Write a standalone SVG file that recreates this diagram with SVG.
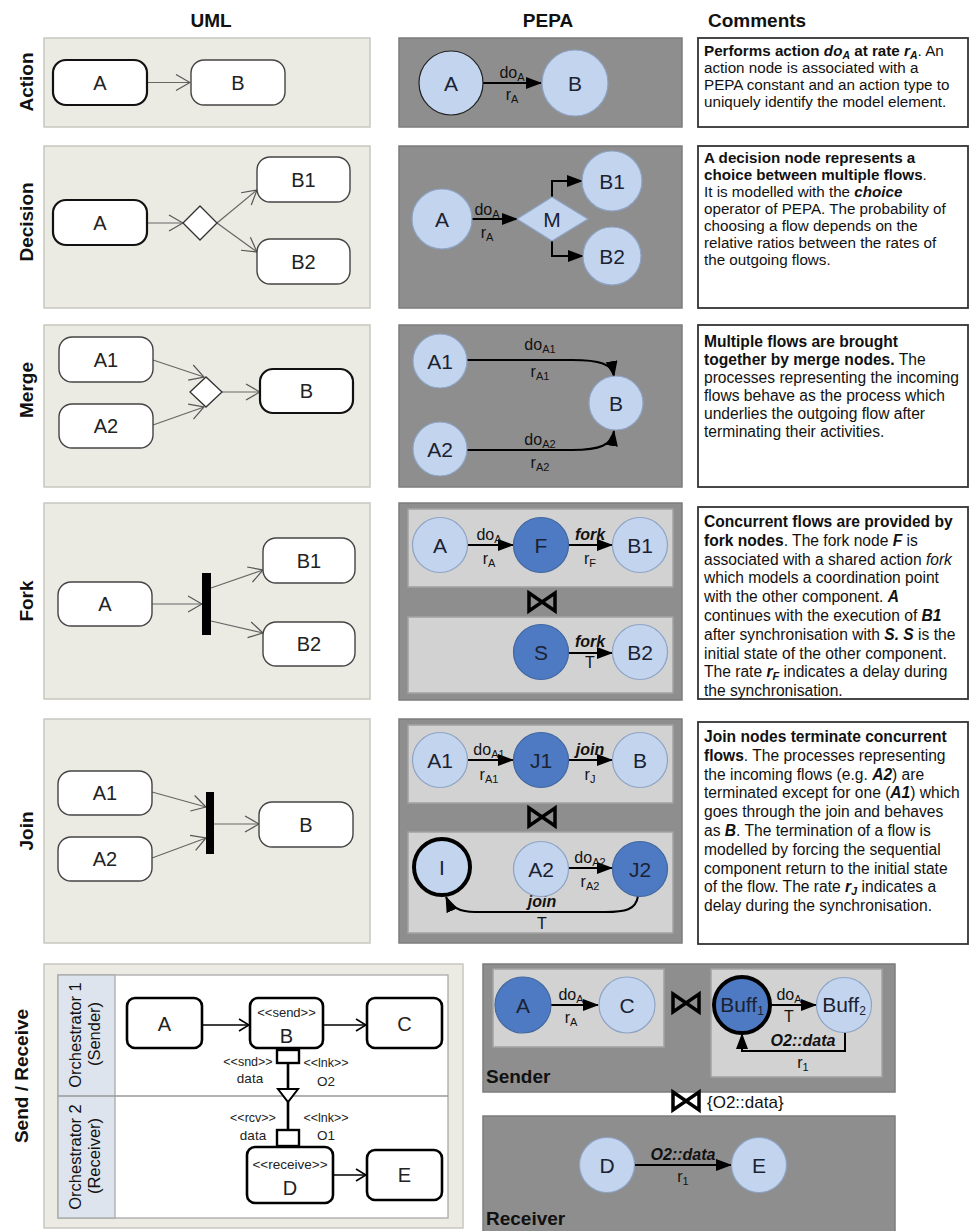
<svg xmlns="http://www.w3.org/2000/svg" width="970" height="1231" viewBox="0 0 970 1231">
<defs>
<marker id="ah" markerUnits="userSpaceOnUse" markerWidth="16" markerHeight="12" refX="15" refY="6" orient="auto"><path d="M0,0 L16,6 L0,12 z" fill="#000"/></marker>
<marker id="uo" markerUnits="userSpaceOnUse" markerWidth="16" markerHeight="18" refX="15" refY="9" orient="auto"><path d="M1,1 L15,9 L1,17" fill="none" stroke="#555" stroke-width="1.2"/></marker>
<marker id="bo" markerUnits="userSpaceOnUse" markerWidth="12" markerHeight="14" refX="11" refY="7" orient="auto"><path d="M1,1 L11,7 L1,13" fill="none" stroke="#000" stroke-width="1.6"/></marker>
<path id="bt" d="M-13,-9 L13,9 L13,-9 L-13,9 Z" fill="none" stroke="#000" stroke-width="3.5" stroke-linejoin="miter"/>
</defs>
<style>
text{font-family:"Liberation Sans",Arial,sans-serif;fill:#111}
.hd{font-weight:bold;font-size:19px}
.rl{font-weight:bold;font-size:19px;text-anchor:middle}
.up{fill:#ebebe3;stroke:#c8c8c0;stroke-width:1.5}
.pp{fill:#8e8e8e;stroke:#7c7c7c;stroke-width:1.5}
.ip{fill:#d2d2d2;stroke:#a2a2a2;stroke-width:1.5}
.cb{fill:#fff;stroke:#333;stroke-width:1.8}
.un{fill:#fff;stroke:#444;stroke-width:1.4}
.unt{fill:#fff;stroke:#111;stroke-width:2.2}
.sn{fill:#fff;stroke:#000;stroke-width:2.6}
.ut{font-size:20px;text-anchor:middle;fill:#222}
.lc{fill:#c3d5ee;stroke:#8ea3c4;stroke-width:1.2}
.dc{fill:#4d7ac2;stroke:#42689f;stroke-width:1.2}
.ct{font-size:21px;text-anchor:middle;fill:#1b2233}
.al{font-size:16px;text-anchor:middle}
.sb{font-size:11px}
.ua{stroke:#666;stroke-width:1.2;fill:none;marker-end:url(#uo)}
.pa{stroke:#000;stroke-width:2;fill:none;marker-end:url(#ah)}
.ba{stroke:#000;stroke-width:1.6;fill:none;marker-end:url(#bo)}
.tx{font-size:15.6px}
.ts{font-size:15.2px}
.b{font-weight:bold}
.i{font-style:italic}
.st{text-anchor:middle;fill:#222}
</style>

<!-- headers -->
<g id="headers">
<text x="211" y="27" class="hd" text-anchor="middle">UML</text>
<text x="548" y="27" class="hd" text-anchor="middle">PEPA</text>
<text x="708" y="27" class="hd">Comments</text>
<text class="rl" transform="translate(33,82) rotate(-90)">Action</text>
<text class="rl" transform="translate(33,222) rotate(-90)">Decision</text>
<text class="rl" transform="translate(33,390) rotate(-90)">Merge</text>
<text class="rl" transform="translate(33,601) rotate(-90)">Fork</text>
<text class="rl" transform="translate(33,831) rotate(-90)">Join</text>
<text class="rl" transform="translate(28,1076) rotate(-90)">Send / Receive</text>
</g>

<!-- panels -->
<g id="panels">
<rect x="44" y="38" width="326" height="89" class="up"/>
<rect x="44" y="146" width="326" height="162" class="up"/>
<rect x="44" y="325" width="326" height="162" class="up"/>
<rect x="44" y="503" width="326" height="196" class="up"/>
<rect x="44" y="719" width="326" height="224" class="up"/>
<rect x="44" y="964" width="419" height="264" class="up"/>
<rect x="399" y="38" width="283" height="89" class="pp"/>
<rect x="399" y="146" width="283" height="162" class="pp"/>
<rect x="399" y="325" width="283" height="162" class="pp"/>
<rect x="399" y="503" width="283" height="197" class="pp"/>
<rect x="408" y="509" width="265" height="78" class="ip"/>
<rect x="408" y="617" width="265" height="76" class="ip"/>
<rect x="399" y="719" width="283" height="224" class="pp"/>
<rect x="408" y="725" width="265" height="78" class="ip"/>
<rect x="408" y="832" width="265" height="101" class="ip"/>
<rect x="483" y="964" width="412" height="128" class="pp"/>
<rect x="493" y="969" width="171" height="78" class="ip"/>
<rect x="711" y="969" width="171" height="108" class="ip"/>
<rect x="483" y="1116" width="412" height="118" class="pp"/>
<text x="486" y="1083" class="b" font-size="19">Sender</text>
<text x="486" y="1225" class="b" font-size="19">Receiver</text>
</g>

<!-- send/receive UML swimlanes -->
<g id="uml-lanes">
<rect x="58" y="975" width="390" height="243" fill="#fff" stroke="#aaa" stroke-width="1.3"/>
<rect x="58" y="975" width="57" height="243" fill="#dde4ee" stroke="#aaa" stroke-width="1.3"/>
<line x1="58" y1="1096" x2="448" y2="1096" stroke="#999" stroke-width="1.3"/>
<text transform="translate(81,1035) rotate(-90)" text-anchor="middle" font-size="16.5" fill="#333">Orchestrator 1</text>
<text transform="translate(100,1034) rotate(-90)" text-anchor="middle" font-size="16.5" fill="#333">(Sender)</text>
<text transform="translate(81,1157) rotate(-90)" text-anchor="middle" font-size="16.5" fill="#333">Orchestrator 2</text>
<text transform="translate(100,1156) rotate(-90)" text-anchor="middle" font-size="16.5" fill="#333">(Receiver)</text>
</g>

<!-- connectors -->
<g id="connectors">
<line x1="147" y1="82.5" x2="190" y2="82.5" class="ua"/>
<line x1="147" y1="223" x2="183" y2="223" class="ua"/>
<line x1="217" y1="223" x2="257" y2="190" class="ua"/>
<line x1="217" y1="223" x2="257" y2="252" class="ua"/>
<line x1="153" y1="360" x2="204" y2="377" class="ua"/>
<line x1="153" y1="425" x2="204" y2="407" class="ua"/>
<line x1="222" y1="392" x2="260" y2="392" class="ua"/>
<line x1="152" y1="604" x2="202" y2="604" class="ua"/>
<line x1="211" y1="588" x2="263" y2="570" class="ua"/>
<line x1="211" y1="621" x2="263" y2="633" class="ua"/>
<line x1="152" y1="792" x2="206" y2="807" class="ua"/>
<line x1="152" y1="858" x2="206" y2="838" class="ua"/>
<line x1="214" y1="824" x2="259" y2="824" class="ua"/>
<line x1="202" y1="1025" x2="249" y2="1025" class="ba"/>
<line x1="323" y1="1025" x2="366" y2="1025" class="ba"/>
<line x1="333" y1="1175" x2="366" y2="1175" class="ba"/>
<line x1="288" y1="1063" x2="288" y2="1089" stroke="#000" stroke-width="2.6"/>
<line x1="288" y1="1102" x2="288" y2="1130" stroke="#000" stroke-width="2.6"/>
<path d="M278,1089 L298,1089 L288,1102 Z" fill="#fff" stroke="#000" stroke-width="2"/>
<!-- PEPA -->
<line x1="483" y1="83" x2="541" y2="83" class="pa"/>
<line x1="472" y1="219" x2="517" y2="219" class="pa"/>
<path d="M552,197 L552,181 L582,181" class="pa"/>
<path d="M552,241 L552,256 L583,256" class="pa"/>
<path d="M467,360 L572,360 C600,360 612,364 614,376" class="pa"/>
<path d="M467,450 L572,450 C600,450 612,445 614,431" class="pa"/>
<line x1="467" y1="545" x2="513" y2="545" class="pa"/>
<line x1="569" y1="545" x2="612" y2="545" class="pa"/>
<line x1="569" y1="653" x2="612" y2="653" class="pa"/>
<line x1="467" y1="760" x2="513" y2="760" class="pa"/>
<line x1="569" y1="760" x2="612" y2="760" class="pa"/>
<line x1="568" y1="868" x2="612" y2="868" class="pa"/>
<path d="M638,896 C636,910 625,912 605,912 L475,912 C458,912 450,906 446,897" class="pa"/>
<line x1="551" y1="1005" x2="598" y2="1005" class="pa"/>
<line x1="770" y1="1005" x2="816" y2="1005" class="pa"/>
<path d="M845,1032 L845,1051 L742,1051 L742,1034" class="pa"/>
<line x1="635" y1="1165" x2="731" y2="1165" class="pa"/>
<use href="#bt" x="542" y="602"/>
<use href="#bt" x="542" y="817"/>
<use href="#bt" x="686" y="1003"/>
<use href="#bt" x="686" y="1101"/>
</g>

<!-- labels on connectors -->
<g id="edge-labels">
<text x="512" y="78" class="al">do<tspan class="sb" dy="3">A</tspan></text>
<text x="512" y="100" class="al">r<tspan class="sb" dy="3">A</tspan></text>
<text x="487" y="215" class="al">do<tspan class="sb" dy="3">A</tspan></text>
<text x="487" y="238" class="al">r<tspan class="sb" dy="3">A</tspan></text>
<text x="540" y="350" class="al">do<tspan class="sb" dy="3">A1</tspan></text>
<text x="540" y="377" class="al">r<tspan class="sb" dy="3">A1</tspan></text>
<text x="540" y="445" class="al">do<tspan class="sb" dy="3">A2</tspan></text>
<text x="540" y="468" class="al">r<tspan class="sb" dy="3">A2</tspan></text>
<text x="489" y="540" class="al">do<tspan class="sb" dy="3">A</tspan></text>
<text x="489" y="564" class="al">r<tspan class="sb" dy="3">A</tspan></text>
<text x="590" y="540" class="al b i">fork</text>
<text x="590" y="564" class="al">r<tspan class="sb" dy="3">F</tspan></text>
<text x="590" y="647" class="al b i">fork</text>
<text x="590" y="668" class="al">T</text>
<text x="489" y="755" class="al">do<tspan class="sb" dy="3">A1</tspan></text>
<text x="489" y="780" class="al">r<tspan class="sb" dy="3">A1</tspan></text>
<text x="590" y="755" class="al b i">join</text>
<text x="590" y="780" class="al">r<tspan class="sb" dy="3">J</tspan></text>
<text x="590" y="863" class="al">do<tspan class="sb" dy="3">A2</tspan></text>
<text x="590" y="887" class="al">r<tspan class="sb" dy="3">A2</tspan></text>
<text x="542" y="907" class="al b i">join</text>
<text x="542" y="929" class="al">T</text>
<text x="571" y="1000" class="al">do<tspan class="sb" dy="3">A</tspan></text>
<text x="571" y="1023" class="al">r<tspan class="sb" dy="3">A</tspan></text>
<text x="789" y="1000" class="al">do<tspan class="sb" dy="3">A</tspan></text>
<text x="789" y="1022" class="al">T</text>
<text x="803" y="1046" class="al b i">O2::data</text>
<text x="803" y="1068" class="al">r<tspan class="sb" dy="3">1</tspan></text>
<text x="683" y="1160" class="al b i">O2::data</text>
<text x="683" y="1182" class="al">r<tspan class="sb" dy="3">1</tspan></text>
<text x="707" y="1108" font-size="17">{O2::data}</text>
<text x="248" y="1066" class="st" font-size="12.5">&lt;&lt;snd&gt;&gt;</text>
<text x="250" y="1083" class="st" font-size="13.5">data</text>
<text x="326" y="1067" class="st" font-size="12.5">&lt;&lt;lnk&gt;&gt;</text>
<text x="326" y="1086" class="st" font-size="13.5">O2</text>
<text x="253" y="1122" class="st" font-size="12.5">&lt;&lt;rcv&gt;&gt;</text>
<text x="253" y="1140" class="st" font-size="13.5">data</text>
<text x="326" y="1122" class="st" font-size="12.5">&lt;&lt;lnk&gt;&gt;</text>
<text x="326" y="1140" class="st" font-size="13.5">O1</text>
</g>

<!-- UML nodes -->
<g id="uml-action-A"><rect x="53" y="60" width="94" height="45" rx="13" class="unt"/><text x="100" y="89.5" class="ut">A</text></g>
<g id="uml-action-B"><rect x="191" y="60" width="94" height="45" rx="13" class="un"/><text x="238" y="89.5" class="ut">B</text></g>

<g id="uml-dec-A"><rect x="53" y="200" width="94" height="45" rx="13" class="unt"/><text x="100" y="229.5" class="ut">A</text></g>
<g id="uml-dec-D"><path d="M183,223 L200,206 L217,223 L200,240 Z" fill="#fff" stroke="#333" stroke-width="1.3"/></g>
<g id="uml-dec-B1"><rect x="257" y="157" width="93" height="45" rx="13" class="un"/><text x="303.5" y="186.5" class="ut">B1</text></g>
<g id="uml-dec-B2"><rect x="257" y="239" width="93" height="45" rx="13" class="un"/><text x="303.5" y="268.5" class="ut">B2</text></g>

<g id="uml-mer-A1"><rect x="59" y="337" width="94" height="45" rx="13" class="un"/><text x="106" y="366.5" class="ut">A1</text></g>
<g id="uml-mer-A2"><rect x="59" y="404" width="94" height="44" rx="13" class="un"/><text x="106" y="433" class="ut">A2</text></g>
<g id="uml-mer-D"><path d="M190,392 L206,377 L222,392 L206,407 Z" fill="#fff" stroke="#333" stroke-width="1.3"/></g>
<g id="uml-mer-B"><rect x="260" y="369" width="93" height="44" rx="13" class="unt"/><text x="306.5" y="398" class="ut">B</text></g>

<g id="uml-fork-A"><rect x="58" y="582" width="94" height="44" rx="13" class="un"/><text x="105" y="611" class="ut">A</text></g>
<g id="uml-fork-bar"><rect x="202" y="573" width="9" height="62" fill="#000"/></g>
<g id="uml-fork-B1"><rect x="263" y="538" width="92" height="45" rx="13" class="un"/><text x="309" y="567.5" class="ut">B1</text></g>
<g id="uml-fork-B2"><rect x="263" y="622" width="92" height="44" rx="13" class="un"/><text x="309" y="651" class="ut">B2</text></g>

<g id="uml-join-A1"><rect x="58" y="771" width="94" height="44" rx="13" class="un"/><text x="105" y="800" class="ut">A1</text></g>
<g id="uml-join-A2"><rect x="58" y="837" width="94" height="44" rx="13" class="un"/><text x="105" y="866" class="ut">A2</text></g>
<g id="uml-join-bar"><rect x="206" y="792" width="8" height="62" fill="#000"/></g>
<g id="uml-join-B"><rect x="259" y="802" width="94" height="45" rx="13" class="un"/><text x="306" y="831.5" class="ut">B</text></g>

<g id="uml-sr-A"><rect x="127" y="998" width="75" height="50" rx="8" class="sn"/><text x="164.5" y="1031" class="ut">A</text></g>
<g id="uml-sr-B"><rect x="250" y="998" width="73" height="50" rx="8" class="sn"/><text x="286.5" y="1017" class="st" font-size="13">&lt;&lt;send&gt;&gt;</text><text x="286.5" y="1043" class="ut">B</text></g>
<g id="uml-sr-C"><rect x="367" y="998" width="75" height="50" rx="8" class="sn"/><text x="404.5" y="1031" class="ut">C</text></g>
<g id="uml-sr-pin1"><rect x="277" y="1050" width="22" height="13" fill="#fff" stroke="#000" stroke-width="2.4"/></g>
<g id="uml-sr-pin2"><rect x="277" y="1130" width="22" height="16" fill="#fff" stroke="#000" stroke-width="2.4"/></g>
<g id="uml-sr-D"><rect x="247" y="1147" width="86" height="56" rx="8" class="sn"/><text x="290" y="1169" class="st" font-size="13.5">&lt;&lt;receive&gt;&gt;</text><text x="290" y="1195" class="ut">D</text></g>
<g id="uml-sr-E"><rect x="367" y="1150" width="75" height="50" rx="8" class="sn"/><text x="404.5" y="1182" class="ut">E</text></g>

<!-- PEPA nodes -->
<g id="p-act-A"><circle cx="451" cy="83" r="32" fill="#c3d5ee" stroke="#222" stroke-width="1.2"/><text x="451" y="90.5" class="ct">A</text></g>
<g id="p-act-B"><circle cx="575" cy="83" r="33" class="lc"/><text x="575" y="90.5" class="ct">B</text></g>
<g id="p-dec-A"><circle cx="442" cy="219" r="30" class="lc"/><text x="442" y="226.5" class="ct">A</text></g>
<g id="p-dec-M"><path d="M517,219 L552,197 L588,219 L552,241 Z" class="lc"/><text x="552" y="226.5" class="ct">M</text></g>
<g id="p-dec-B1"><circle cx="612" cy="181" r="30" class="lc"/><text x="612" y="188.5" class="ct">B1</text></g>
<g id="p-dec-B2"><circle cx="612" cy="256" r="29" class="lc"/><text x="612" y="263.5" class="ct">B2</text></g>
<g id="p-mer-A1"><circle cx="440" cy="361" r="27" class="lc"/><text x="440" y="368.5" class="ct">A1</text></g>
<g id="p-mer-A2"><circle cx="440" cy="449" r="27" class="lc"/><text x="440" y="456.5" class="ct">A2</text></g>
<g id="p-mer-B"><circle cx="616" cy="403" r="27" class="lc"/><text x="616" y="410.5" class="ct">B</text></g>
<g id="p-fork-A"><circle cx="440" cy="545" r="27.5" class="lc"/><text x="440" y="552.5" class="ct">A</text></g>
<g id="p-fork-F"><circle cx="541" cy="545" r="27.5" class="dc"/><text x="541" y="552.5" class="ct">F</text></g>
<g id="p-fork-B1"><circle cx="640" cy="545" r="27.5" class="lc"/><text x="640" y="552.5" class="ct">B1</text></g>
<g id="p-fork-S"><circle cx="541" cy="652" r="27.5" class="dc"/><text x="541" y="659.5" class="ct">S</text></g>
<g id="p-fork-B2"><circle cx="640" cy="652" r="27.5" class="lc"/><text x="640" y="659.5" class="ct">B2</text></g>
<g id="p-join-A1"><circle cx="440" cy="760" r="27.5" class="lc"/><text x="440" y="767.5" class="ct">A1</text></g>
<g id="p-join-J1"><circle cx="541" cy="760" r="27.5" class="dc"/><text x="541" y="767.5" class="ct">J1</text></g>
<g id="p-join-B"><circle cx="640" cy="760" r="27.5" class="lc"/><text x="640" y="767.5" class="ct">B</text></g>
<g id="p-join-I"><circle cx="442" cy="867" r="28" fill="#c3d5ee" stroke="#000" stroke-width="4"/><text x="442" y="874.5" class="ct">I</text></g>
<g id="p-join-A2"><circle cx="541" cy="869" r="27.5" class="lc"/><text x="541" y="876.5" class="ct">A2</text></g>
<g id="p-join-J2"><circle cx="640" cy="869" r="27.5" class="dc"/><text x="640" y="876.5" class="ct">J2</text></g>
<g id="p-sr-A"><circle cx="523" cy="1005" r="28" class="dc"/><text x="523" y="1012.5" class="ct">A</text></g>
<g id="p-sr-C"><circle cx="627" cy="1005" r="28" class="lc"/><text x="627" y="1012.5" class="ct">C</text></g>
<g id="p-sr-Buff1"><circle cx="742" cy="1005" r="28" fill="#4d7ac2" stroke="#000" stroke-width="4"/><text x="742" y="1012" class="ct" font-size="19">Buff<tspan font-size="12" dy="3">1</tspan></text></g>
<g id="p-sr-Buff2"><circle cx="844" cy="1005" r="27.5" class="lc"/><text x="844" y="1012" class="ct" font-size="19">Buff<tspan font-size="12" dy="3">2</tspan></text></g>
<g id="p-sr-D"><circle cx="607" cy="1165" r="27.5" class="lc"/><text x="607" y="1172.5" class="ct">D</text></g>
<g id="p-sr-E"><circle cx="759" cy="1165" r="27.5" class="lc"/><text x="759" y="1172.5" class="ct">E</text></g>

<!-- comments -->
<g id="c-action"><rect x="698" y="38" width="270" height="89" class="cb"/>
<text class="ts" x="704" y="56"><tspan class="b">Performs action </tspan><tspan class="b i">do</tspan><tspan class="b i" font-size="10.5" dy="3">A</tspan><tspan class="b" dy="-3"> at rate </tspan><tspan class="b i">r</tspan><tspan class="b i" font-size="10.5" dy="3">A</tspan><tspan dy="-3">. An</tspan></text>
<text class="ts" x="704" y="73">action node is associated with a</text>
<text class="ts" x="704" y="90">PEPA constant and an action type to</text>
<text class="ts" x="704" y="107">uniquely identify the model element.</text>
</g>
<g id="c-decision"><rect x="698" y="146" width="270" height="162" class="cb"/>
<text class="ts b" x="704" y="163">A decision node represents a</text>
<text class="ts" x="704" y="180"><tspan class="b">choice between multiple flows</tspan>.</text>
<text class="ts" x="704" y="197">It is modelled with the <tspan class="b i">choice</tspan></text>
<text class="ts" x="704" y="214">operator of PEPA. The probability of</text>
<text class="ts" x="704" y="231">choosing a flow depends on the</text>
<text class="ts" x="704" y="248">relative ratios between the rates of</text>
<text class="ts" x="704" y="265">the outgoing flows.</text>
</g>
<g id="c-merge"><rect x="698" y="325" width="270" height="162" class="cb"/>
<text class="tx b" x="704" y="347">Multiple flows are brought</text>
<text class="tx" x="704" y="365"><tspan class="b">together by merge nodes.</tspan> The</text>
<text class="tx" x="704" y="383">processes representing the incoming</text>
<text class="tx" x="704" y="401">flows behave as the process which</text>
<text class="tx" x="704" y="419">underlies the outgoing flow after</text>
<text class="tx" x="704" y="437">terminating their activities.</text>
</g>
<g id="c-fork"><rect x="698" y="507" width="270" height="192" class="cb"/>
<text class="tx b" x="704" y="527">Concurrent flows are provided by</text>
<text class="tx" x="704" y="545.8"><tspan class="b">fork nodes</tspan>. The fork node <tspan class="b i">F</tspan> is</text>
<text class="tx" x="704" y="564.6">associated with a shared action <tspan class="i">fork</tspan></text>
<text class="tx" x="704" y="583.4">which models a coordination point</text>
<text class="tx" x="704" y="602.2">with the other component. <tspan class="b i">A</tspan></text>
<text class="tx" x="704" y="621">continues with the execution of <tspan class="b i">B1</tspan></text>
<text class="tx" x="704" y="639.8">after synchronisation with <tspan class="b i">S. S</tspan> is the</text>
<text class="tx" x="704" y="658.6">initial state of the other component.</text>
<text class="tx" x="704" y="677.4">The rate <tspan class="b i">r</tspan><tspan class="b i" font-size="11" dy="3">F</tspan><tspan dy="-3"> indicates a delay during</tspan></text>
<text class="tx" x="704" y="696">the synchronisation.</text>
</g>
<g id="c-join"><rect x="698" y="722" width="270" height="222" class="cb"/>
<text class="tx b" x="704" y="742">Join nodes terminate concurrent</text>
<text class="tx" x="704" y="760.8"><tspan class="b">flows</tspan>. The processes representing</text>
<text class="tx" x="704" y="779.6">the incoming flows (e.g. <tspan class="b i">A2</tspan>) are</text>
<text class="tx" x="704" y="798.4">terminated except for one (<tspan class="b i">A1</tspan>) which</text>
<text class="tx" x="704" y="817.2">goes through the join and behaves</text>
<text class="tx" x="704" y="836">as <tspan class="b i">B</tspan>. The termination of a flow is</text>
<text class="tx" x="704" y="854.8">modelled by forcing the sequential</text>
<text class="tx" x="704" y="873.6">component return to the initial state</text>
<text class="tx" x="704" y="892.4">of the flow. The rate <tspan class="b i">r</tspan><tspan class="b i" font-size="11" dy="3">J</tspan><tspan dy="-3"> indicates a</tspan></text>
<text class="tx" x="704" y="911.2">delay during the synchronisation.</text>
</g>
</svg>
